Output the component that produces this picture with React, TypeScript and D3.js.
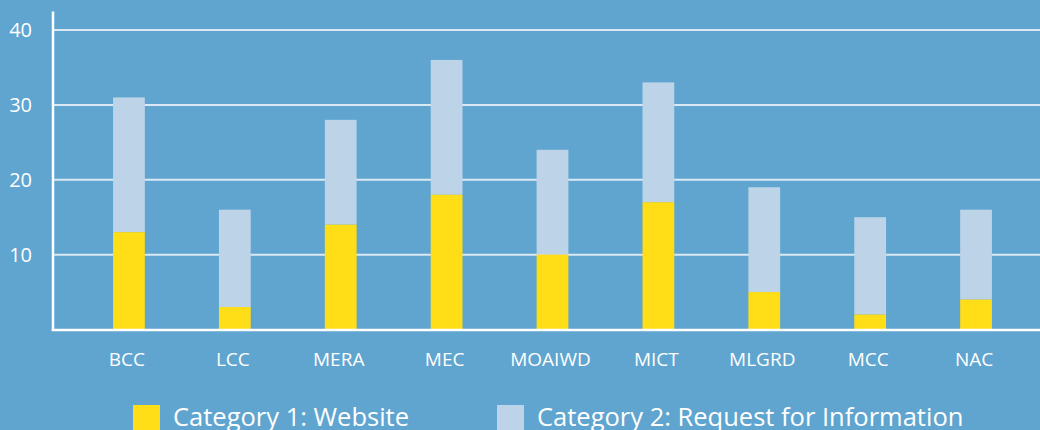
import React from 'react'
import * as d3 from 'd3'

const categories = ['BCC', 'LCC', 'MERA', 'MEC', 'MOAIWD', 'MICT', 'MLGRD', 'MCC', 'NAC']
const websiteValues = [13, 3, 14, 18, 10, 17, 5, 2, 4]
const requestValues = [18, 13, 14, 18, 14, 16, 14, 13, 12]
const yTicks = [10, 20, 30, 40]
const seriesNames = ['Category 1: Website', 'Category 2: Request for Information']

const WIDTH = 1040
const HEIGHT = 430
const BG = '#5fa5cf'
const YELLOW = '#ffdd17'
const LIGHT = '#bdd3e8'
const FONT = '"Open Sans", "Noto Sans", sans-serif'

const App: React.FC = () => {
  const xScale = d3.scaleBand<string>()
    .domain(categories)
    .range([76, 1029])
    .padding(0)

  const yScale = d3.scaleLinear()
    .domain([0, 40])
    .range([329.5, 30])

  const barW = xScale.bandwidth() * 0.3
  const axisX = 53
  const axisY = 330

  const stacked = categories.map((c, i) => ({
    name: c,
    a: websiteValues[i],
    b: requestValues[i]
  }))

  return (
    <svg
      width={WIDTH}
      height={HEIGHT}
      style={{ position: 'absolute', left: 0, top: 0, background: BG, fontFamily: FONT }}
    >
      <rect x={0} y={0} width={WIDTH} height={HEIGHT} fill={BG} />

      {/* gridlines */}
      {yTicks.map(t => (
        <line key={'g' + t} x1={axisX} x2={WIDTH} y1={yScale(t)} y2={yScale(t)}
          stroke="#dbe9f4" strokeWidth={2} />
      ))}

      {/* bars */}
      {stacked.map(d => {
        const cx = (xScale(d.name) ?? 0) + xScale.bandwidth() / 2
        return (
          <g key={d.name}>
            <rect x={cx - barW / 2} width={barW}
              y={yScale(d.a + d.b)} height={yScale(d.a) - yScale(d.a + d.b)} fill={LIGHT} />
            <rect x={cx - barW / 2} width={barW}
              y={yScale(d.a)} height={yScale(0) - yScale(d.a)} fill={YELLOW} />
          </g>
        )
      })}

      {/* axes */}
      <line x1={axisX} x2={axisX} y1={11.5} y2={axisY + 1} stroke="#fff" strokeWidth={2.5} />
      <line x1={axisX - 1.25} x2={WIDTH} y1={axisY} y2={axisY} stroke="#fff" strokeWidth={2.5} />

      {yTicks.map(t => (
        <text key={'t' + t} x={32} y={yScale(t)} dy="0.35em" textAnchor="end"
          fill="#fff" fontSize={20}>{t}</text>
      ))}

      {categories.map(c => (
        <text key={'x' + c} x={(xScale(c) ?? 0) + xScale.bandwidth() / 2 - 2} y={366}
          textAnchor="middle" fill="#fff" fontSize={19}>{c}</text>
      ))}

      {/* legend */}
      {seriesNames.map((s, i) => {
        const lx = i === 0 ? 133 : 497
        return (
          <g key={s}>
            <rect x={lx} y={405} width={27} height={27} fill={i === 0 ? YELLOW : LIGHT} />
            <text x={lx + 40} y={426} fill="#fff" fontSize={25.5}>{s}</text>
          </g>
        )
      })}
    </svg>
  )
}

export default App
